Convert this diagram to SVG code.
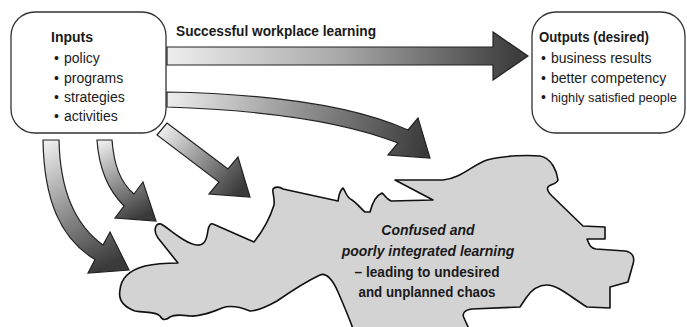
<svg xmlns="http://www.w3.org/2000/svg" width="687" height="327" viewBox="0 0 687 327">
<defs>
<style>
.box{fill:#fff;stroke:#333;stroke-width:1.3}
.t{font-family:"Liberation Sans",Arial,sans-serif;font-size:14px;fill:#1a1a1a}
.b{font-weight:bold}
.arr{stroke:#222;stroke-width:1.2;stroke-linejoin:miter}
.blob{fill:#d3d3d3;stroke:#111;stroke-width:1.6;stroke-linejoin:round}
.ct{font-family:"Liberation Sans",Arial,sans-serif;font-size:14px;font-weight:bold;fill:#1a1a1a;text-anchor:middle}
</style>
<linearGradient id="gS" gradientUnits="userSpaceOnUse" x1="167" y1="56" x2="515" y2="56">
<stop offset="0" stop-color="#eeeeee"/><stop offset="0.5" stop-color="#a8a8a8"/><stop offset="1" stop-color="#3e3e3e"/></linearGradient>
<linearGradient id="gC" gradientUnits="userSpaceOnUse" x1="167" y1="98" x2="425" y2="150">
<stop offset="0" stop-color="#eeeeee"/><stop offset="0.55" stop-color="#8a8a8a"/><stop offset="1" stop-color="#3a3a3a"/></linearGradient>
<linearGradient id="gD" gradientUnits="userSpaceOnUse" x1="162" y1="129" x2="240" y2="190">
<stop offset="0" stop-color="#eeeeee"/><stop offset="0.55" stop-color="#8a8a8a"/><stop offset="1" stop-color="#3a3a3a"/></linearGradient>
<linearGradient id="gM" gradientUnits="userSpaceOnUse" x1="104" y1="140" x2="145" y2="215">
<stop offset="0" stop-color="#eeeeee"/><stop offset="0.55" stop-color="#8a8a8a"/><stop offset="1" stop-color="#3a3a3a"/></linearGradient>
<linearGradient id="gL" gradientUnits="userSpaceOnUse" x1="51" y1="140" x2="115" y2="262">
<stop offset="0" stop-color="#eeeeee"/><stop offset="0.55" stop-color="#8a8a8a"/><stop offset="1" stop-color="#3a3a3a"/></linearGradient>
</defs>
<rect width="687" height="327" fill="#fff"/>

<g id="node-chaos">
<path class="blob" d="M120,290 C121,278 130,270 145,266 C158,263 170,263 178,263 L158,238 C153,231 155,223 161,224 C170,229 185,244 197,245 C205,246 207,238 208,230 C209,225 211,223 213,224 L254,242 C262,232 270,218 274,205 C275,198 272,192 273,189 C275,186 280,187 283,189 L338,201 C339,196 339,191 343,188 C346,192 346,197 352,200 C358,204 362,210 365,212 L370,212 C372,204 375,196 382,193 C385,195 386,199 391,201 L433,200 L395,180 L443,180 C462,178 472,165 487,160 C505,155 530,155 540,156 C552,158 557,172 558,180 C556,185 550,184 548,187 C546,190 550,194 552,196 L583,226 L605,227 L605,239 L587,239 C589,244 590,248 596,249 L625,251 C633,252 635,258 633,264 L628,282 L610,287 L610,308 L587,307 C572,298 558,285 547,285 C537,285 530,292 526,298 L520,307 L472,309 C464,310 462,314 464,318 L474,340 L357,340 C352,325 345,308 338,292 C333,280 326,272 320,275 C305,282 290,292 277,301 C268,306 258,311 250,311 C240,307 230,305 222,308 C212,312 200,317 190,316 C182,315 175,314 170,317 C166,320 163,321 160,316 C155,311 145,313 135,311 C124,307 118,300 120,290 Z"/>
<text class="ct" x="428" y="235" font-style="italic">Confused and</text>
<text class="ct" x="428" y="256" font-style="italic">poorly integrated learning</text>
<text class="ct" x="427" y="277" textLength="145" lengthAdjust="spacingAndGlyphs">– leading to undesired</text>
<text class="ct" x="427" y="297" textLength="137" lengthAdjust="spacingAndGlyphs">and unplanned chaos</text>
</g>

<g id="connectors">
<path class="arr" fill="url(#gS)" d="M167,47 L493,47 L493,32 L528,56 L493,80 L493,65 L167,65 Z"/>
<text class="t b" x="176" y="36" textLength="200" lengthAdjust="spacingAndGlyphs">Successful workplace learning</text>
<path class="arr" fill="url(#gC)" d="M167,92 Q330,95 408,130 L418,118 L430,158 L388,155 L398,143 Q320,112 167,107 Z"/>
<path class="arr" fill="url(#gD)" d="M167,123 L228,169 L238,157 L250,197 L209,194 L219,182 L157,135 Z"/>
<path class="arr" fill="url(#gM)" d="M97,140 L112,140 C114,165 120,182 134,194 L143,182 L156,221 L115,218 L124,206 C108,190 99,170 97,140 Z"/>
<path class="arr" fill="url(#gL)" d="M43,140 L59,140 C60,190 75,225 103,245 L110,232 L129,270 L88,273 L95,259.6 C60,238 44,200 43,140 Z"/>
</g>

<g id="node-inputs">
<rect class="box" x="11" y="12" width="155" height="121" rx="24"/>
<text class="t b" x="51" y="42">Inputs</text>
<text class="t" y="63"><tspan x="54">•</tspan><tspan x="64">policy</tspan></text>
<text class="t" y="83"><tspan x="54">•</tspan><tspan x="64">programs</tspan></text>
<text class="t" y="102"><tspan x="54">•</tspan><tspan x="64">strategies</tspan></text>
<text class="t" y="121"><tspan x="54">•</tspan><tspan x="64">activities</tspan></text>
</g>

<g id="node-outputs">
<rect class="box" x="532" y="12" width="153" height="121" rx="24"/>
<text class="t b" x="539" y="42" textLength="110" lengthAdjust="spacingAndGlyphs">Outputs (desired)</text>
<text class="t" y="63"><tspan x="541">•</tspan><tspan x="551">business results</tspan></text>
<text class="t" y="83"><tspan x="541">•</tspan><tspan x="551">better competency</tspan></text>
<text class="t" y="102"><tspan x="541">•</tspan><tspan x="551" font-size="12.8px">highly satisfied people</tspan></text>
</g>
</svg>
